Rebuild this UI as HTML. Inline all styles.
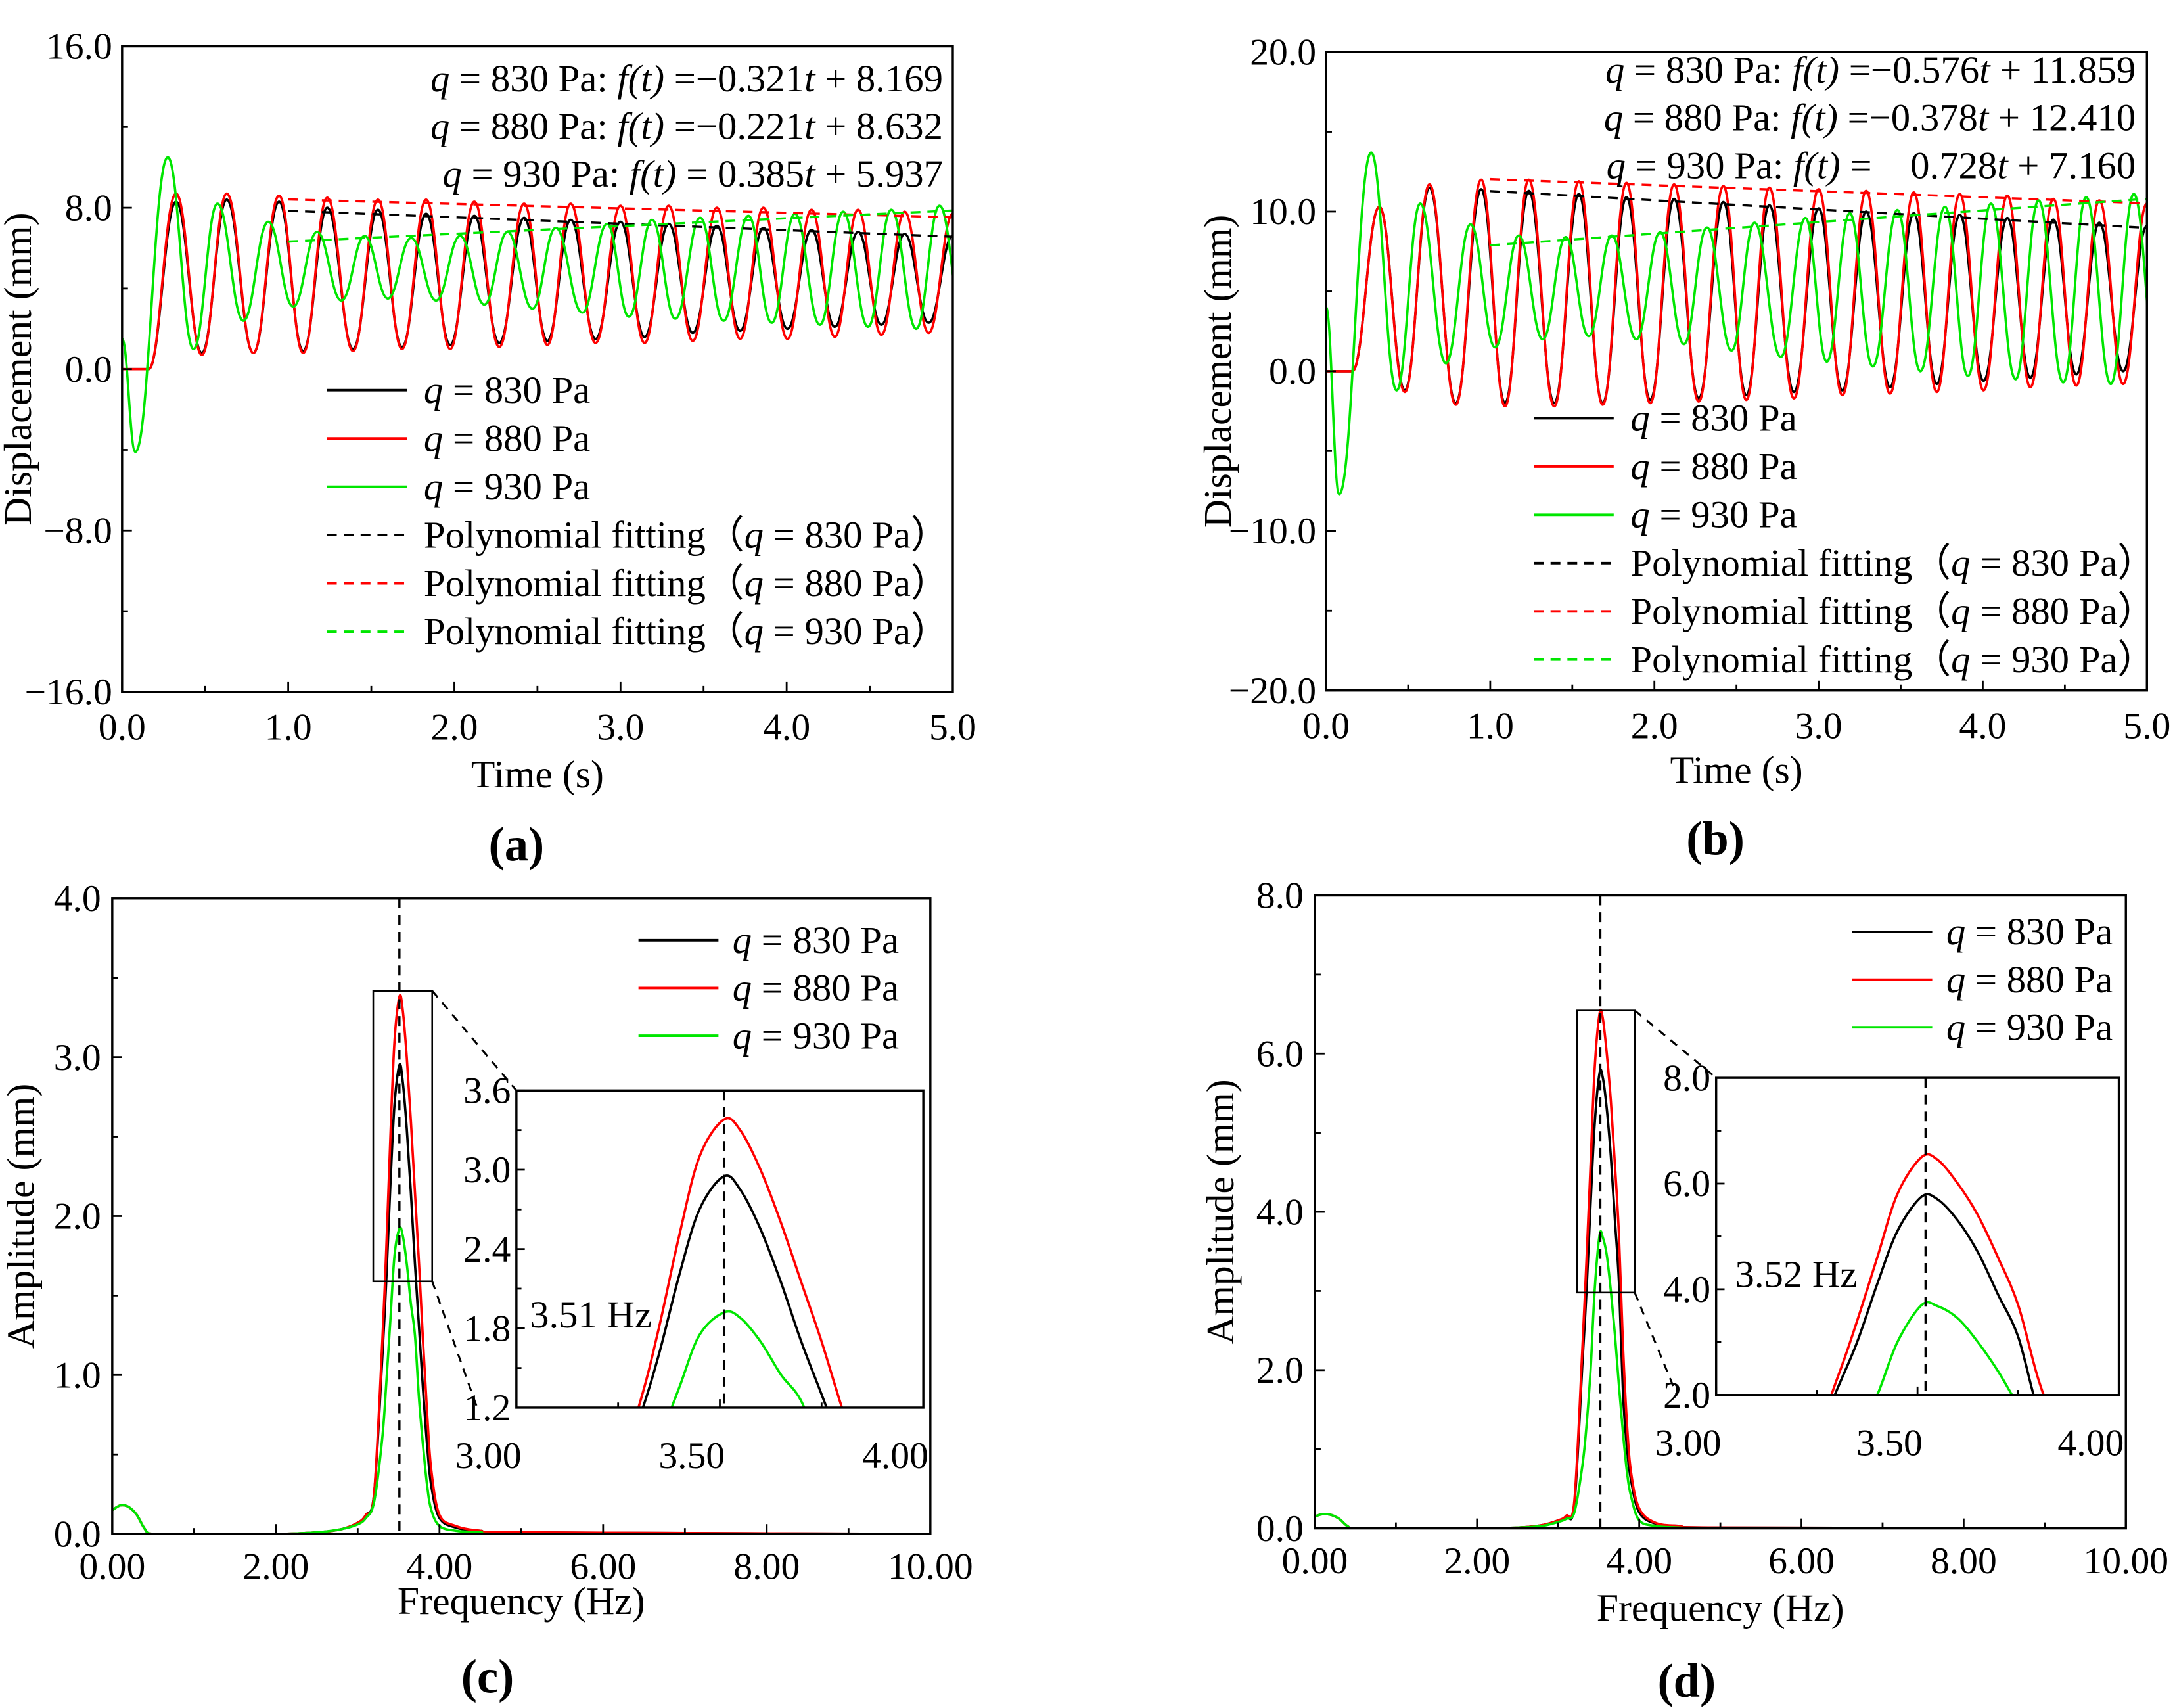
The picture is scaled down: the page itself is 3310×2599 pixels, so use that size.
<!DOCTYPE html>
<html><head><meta charset="utf-8"><style>
html,body{margin:0;padding:0;background:#fff}
svg{display:block}
text{font-family:"Liberation Serif",serif;fill:#000}
</style></head><body>
<svg id="fig" width="3310" height="2599" viewBox="0 0 1550 1217" xmlns="http://www.w3.org/2000/svg"></svg>
<script>
// ---------- DATA ----------
const timeA = [0,0.16,0.325,0.48,0.63,0.79,0.945,1.09,1.235,1.39,1.54,1.685,1.83,1.975,2.12,2.27,2.42,2.56,2.70,2.85,3.0,3.145,3.29,3.435,3.58,3.72,3.86,4.005,4.15,4.29,4.43,4.57,4.71,4.855,5.0];
const blackA = [0,0,8.3,0.8,8.4,0.8,8.3,0.9,8.0,1.0,7.9,1.1,7.7,1.2,7.6,1.3,7.5,1.4,7.4,1.5,7.3,1.6,7.2,1.8,7.1,1.9,7.0,2.0,6.9,2.1,6.8,2.2,6.7,2.3,6.6];
const redA = [0,0,8.7,0.7,8.7,0.8,8.6,0.8,8.5,0.9,8.4,1.0,8.4,1.0,8.3,1.1,8.2,1.2,8.2,1.3,8.1,1.3,8.1,1.4,8.0,1.5,8.0,1.5,7.9,1.6,7.9,1.7,7.8,1.8,7.7];
const timeGreen = [0,0.08,0.275,0.43,0.574,0.73,0.88,1.03,1.174,1.32,1.46,1.60,1.74,1.89,2.035,2.18,2.32,2.47,2.61,2.77,2.92,3.05,3.19,3.33,3.48,3.62,3.77,3.91,4.05,4.20,4.34,4.49,4.63,4.78,4.92,5.07];
const greenA = [1.5,-4.1,10.5,1.0,8.2,2.4,7.3,3.1,6.8,3.4,6.6,3.5,6.5,3.4,6.6,3.2,6.8,3.0,7.0,2.8,7.2,2.6,7.4,2.5,7.5,2.4,7.6,2.3,7.7,2.2,7.8,2.1,7.9,2.0,8.1,2.0];
const blackB = [0,0,10.3,-1.2,11.5,-2.0,11.4,-2.0,11.3,-2.0,11.1,-2.0,10.9,-1.8,10.8,-1.7,10.6,-1.5,10.4,-1.3,10.2,-1.2,10.0,-1.0,9.9,-0.8,9.8,-0.6,9.6,-0.4,9.5,-0.2,9.3,0.0,9.1];
const redB = [0,0,10.3,-1.3,11.7,-2.1,12.0,-2.2,12.0,-2.2,11.9,-2.1,11.8,-2.0,11.7,-1.9,11.6,-1.8,11.5,-1.7,11.4,-1.5,11.3,-1.4,11.2,-1.3,11.1,-1.2,11.0,-1.0,10.8,-0.9,10.7,-0.8,10.5];
const greenB = [4.0,-7.7,13.7,-1.2,10.5,0.5,9.2,1.5,8.5,2.0,8.4,2.2,8.5,2.0,8.7,1.7,9.0,1.3,9.3,0.9,9.6,0.6,9.9,0.3,10.1,0.0,10.3,-0.3,10.5,-0.5,10.7,-0.7,10.9,-0.8,11.1,-0.9];
const fitSlopeA = [-0.321,-0.221,0.385], fitInterA = [8.169,8.632,5.937];
const fitSlopeB = [-0.576,-0.378,0.728], fitInterB = [11.859,12.410,7.160];
const freq = [0,0.1,0.2,0.3,0.4,0.5,1.0,2.0,2.5,2.8,3.0,3.1,3.2,3.3,3.35,3.4,3.45,3.51,3.55,3.6,3.65,3.7,3.75,3.8,3.85,3.9,4.0,4.2,4.5,5.0,10.0];
const blackC = [0.15,0.18,0.17,0.12,0.03,0,0,0,0.01,0.03,0.07,0.12,0.25,1.1,1.6,2.2,2.7,2.95,2.85,2.55,2.15,1.7,1.3,0.9,0.55,0.3,0.1,0.04,0.02,0.01,0];
const redC = [0.15,0.18,0.17,0.12,0.03,0,0,0,0.01,0.03,0.07,0.12,0.25,1.2,1.8,2.5,3.1,3.38,3.3,3.0,2.6,2.15,1.7,1.2,0.75,0.4,0.12,0.05,0.02,0.01,0];
const greenC = [0.15,0.18,0.17,0.12,0.03,0,0,0,0.01,0.03,0.06,0.1,0.2,0.6,0.95,1.35,1.75,1.92,1.88,1.7,1.45,1.25,0.85,0.55,0.3,0.15,0.05,0.02,0.01,0,0];
const blackD = [0.15,0.18,0.17,0.12,0.03,0,0,0,0.01,0.04,0.1,0.15,0.3,2.1,3.0,4.1,5.1,5.75,5.7,5.3,4.7,3.9,3.1,1.7,1.0,0.6,0.2,0.06,0.03,0.01,0];
const redD = [0.15,0.18,0.17,0.12,0.03,0,0,0,0.01,0.04,0.1,0.16,0.35,2.3,3.4,4.6,5.8,6.5,6.45,6.0,5.4,4.6,3.7,2.3,1.3,0.7,0.25,0.07,0.03,0.01,0];
const greenD = [0.15,0.18,0.17,0.12,0.03,0,0,0,0.01,0.03,0.08,0.12,0.2,0.8,1.3,2.0,3.0,3.7,3.68,3.45,3.0,2.45,1.8,1.2,0.7,0.4,0.1,0.03,0.01,0,0];
const peakFreqC = 3.51, peakFreqD = 3.52;
const ticksA_y = ["16.0","8.0","0.0","\u22128.0","\u221216.0"];
const ticksB_y = ["20.0","10.0","0.0","\u221210.0","\u221220.0"];
const ticksAB_x = ["0.0","1.0","2.0","3.0","4.0","5.0"];
const ticksC_y = ["4.0","3.0","2.0","1.0","0.0"];
const ticksD_y = ["8.0","6.0","4.0","2.0","0.0"];
const ticksCD_x = ["0.00","2.00","4.00","6.00","8.00","10.00"];
const insetC_y = ["3.6","3.0","2.4","1.8","1.2"];
const insetD_y = ["8.0","6.0","4.0","2.0"];
const inset_x = ["3.00","3.50","4.00"];

// ---------- HELPERS ----------
const NS="http://www.w3.org/2000/svg";
const svg=document.getElementById('fig');
const TF=27, LF=27.5, AF=28;
function mk(tag,attrs,parent){const e=document.createElementNS(NS,tag);for(const k in attrs)e.setAttribute(k,attrs[k]);(parent||svg).appendChild(e);return e;}
function txt(s,x,y,size,anchor,parent,extra){const t=mk('text',Object.assign({x:x,y:y,'font-size':size,'text-anchor':anchor||'start'},extra||{}),parent);t.innerHTML=s;return t;}
function scale(d0,d1,r0,r1){return v=>r0+(v-d0)/(d1-d0)*(r1-r0);}
let clipN=0;
function frame(x0,y0,x1,y1,name){
  const g=mk('g',{});
  
  
  const id='clip'+(clipN++);
  const cp=mk('clipPath',{id:id},g);mk('rect',{x:x0,y:y0,width:x1-x0,height:y1-y0},cp);
  const plot=mk('g',{'clip-path':'url(#'+id+')'},g);
  return {g,plot,box:()=>mk('rect',{x:x0,y:y0,width:x1-x0,height:y1-y0,fill:'none',stroke:'#000','stroke-width':1.6},g)};
}
function ticks(g,sx,sy,xmin,xmax,xmaj,xmin2,ymin,ymax,ymaj,ymin2,len){
  const x0=sx(xmin),y0=sy(ymin);
  for(let v=xmin;v<=xmax+1e-9;v+=xmin2){const maj=Math.abs(Math.round((v-xmin)/xmaj)*xmaj-(v-xmin))<1e-6;
    mk('line',{x1:sx(v),x2:sx(v),y1:y0,y2:y0-(maj?len:len*0.6),stroke:'#000','stroke-width':1.3},g);}
  for(let v=ymin;v<=ymax+1e-9;v+=ymin2){const maj=Math.abs(Math.round((v-ymin)/ymaj)*ymaj-(v-ymin))<1e-6;
    mk('line',{x1:x0,x2:x0+(maj?len:len*0.6),y1:sy(v),y2:sy(v),stroke:'#000','stroke-width':1.3},g);}
}
function extremaPath(ts,vs,sx,sy){
  let d='M'+sx(ts[0])+','+sy(vs[0]);
  for(let i=1;i<ts.length;i++){const xa=sx(ts[i-1]),ya=sy(vs[i-1]),xb=sx(ts[i]),yb=sy(vs[i]),h=(xb-xa)*0.42;
    d+=' C'+(xa+h)+','+ya+' '+(xb-h)+','+yb+' '+xb+','+yb;}
  return d;
}
function smoothPath(xs,ys,sx,sy){
  const P=xs.map((x,i)=>[sx(x),sy(ys[i])]);
  let d='M'+P[0][0]+','+P[0][1];
  for(let i=0;i<P.length-1;i++){const p0=P[Math.max(0,i-1)],p1=P[i],p2=P[i+1],p3=P[Math.min(P.length-1,i+2)];
    const c1=[p1[0]+(p2[0]-p0[0])/6,p1[1]+(p2[1]-p0[1])/6],c2=[p2[0]-(p3[0]-p1[0])/6,p2[1]-(p3[1]-p1[1])/6];
    d+=' C'+c1+' '+c2+' '+p2;}
  return d;
}
const COL=['#000','#ff0000','#00e600'];

// ---------- PANEL a/b ----------
function timePanel(cfg){
  const {x0,y0,x1,y1,ymax,ymin,ystep,yt,ser,tser,slopes,inters,eqs,eqX,eqY,legX,legY,xlabY,ylabX,name,letter,letY}=cfg;
  const sx=scale(0,5,x0,x1), sy=scale(ymin,ymax,y1,y0);
  const f=frame(x0,y0,x1,y1,name);
  ser.forEach((vs,i)=>{const p=mk('path',{d:extremaPath(tser[i],vs,sx,sy),fill:'none',stroke:COL[i],'stroke-width':1.7},f.plot);
    
    });
  slopes.forEach((s,i)=>{const p=mk('line',{x1:sx(1),y1:sy(inters[i]+s*1),x2:sx(5),y2:sy(inters[i]+s*5),stroke:COL[i],'stroke-width':1.6,'stroke-dasharray':'7,5'},f.plot);
    
    });
  f.box();
  ticks(f.g,sx,sy,0,5,1,0.5,ymin,ymax,ystep,ystep/2,7);
  ticksAB_x.forEach((l,i)=>txt(l,sx(i),y1+34,TF,'middle',f.g));
  yt.forEach((l,i)=>txt(l,x0-7,sy(ymax-i*ystep)+9,TF,'end',f.g));
  eqs.forEach((e,i)=>{const t=txt(e,eqX,eqY+i*34,LF,'end',f.g);});
  const labels=['<tspan font-style="italic">q</tspan> = 830 Pa','<tspan font-style="italic">q</tspan> = 880 Pa','<tspan font-style="italic">q</tspan> = 930 Pa',
    'Polynomial fitting（<tspan font-style="italic">q</tspan> = 830 Pa）','Polynomial fitting（<tspan font-style="italic">q</tspan> = 880 Pa）','Polynomial fitting（<tspan font-style="italic">q</tspan> = 930 Pa）'];
  const lg=mk('g',{},f.g);
  
  
  labels.forEach((l,i)=>{const y=legY+i*34.4;
    const ln=mk('line',{x1:legX,x2:legX+57,y1:y,y2:y,stroke:COL[i%3],'stroke-width':1.8},lg);
    if(i>=3)ln.setAttribute('stroke-dasharray','7,5');
    txt(l,legX+69,y+9,LF,'start',lg,{'font-family':'"Liberation Serif","Noto Serif CJK SC",serif'});});
  const xl=txt('Time (s)',(x0+x1)/2,xlabY,AF,'middle',f.g);
  const yl=txt('Displacement (mm)',0,0,AF,'middle',f.g,{transform:'translate('+ylabX+','+((y0+y1)/2)+') rotate(-90)'});
  const pl=txt('('+letter+')',(x0+x1)/2-15,letY,34,'middle',f.g,{'font-weight':'bold'});
}
const it='<tspan font-style="italic">q</tspan>', ft='<tspan font-style="italic">f(t)</tspan>', tt='<tspan font-style="italic">t</tspan>';
timePanel({x0:87,y0:33,x1:679,y1:493,ymax:16,ymin:-16,ystep:8,yt:ticksA_y,ser:[blackA,redA,greenA],tser:[timeA,timeA,timeGreen],
  slopes:fitSlopeA,inters:fitInterA,eqs:[it+' = 830 Pa: '+ft+' =\u22120.321'+tt+' + 8.169',it+' = 880 Pa: '+ft+' =\u22120.221'+tt+' + 8.632',it+' = 930 Pa: '+ft+' = 0.385'+tt+' + 5.937'],
  eqX:672,eqY:65,legX:233,legY:278,xlabY:561,ylabX:22,name:'panel-a',letter:'a',letY:613});
timePanel({x0:945,y0:37,x1:1530,y1:492,ymax:20,ymin:-20,ystep:10,yt:ticksB_y,ser:[blackB,redB,greenB],tser:[timeA,timeA,timeGreen],
  slopes:fitSlopeB,inters:fitInterB,eqs:[it+' = 830 Pa: '+ft+' =\u22120.576'+tt+' + 11.859',it+' = 880 Pa: '+ft+' =\u22120.378'+tt+' + 12.410',it+' = 930 Pa: '+ft+' =&#160;&#160;&#160;&#160;0.728'+tt+' + 7.160'],
  eqX:1522,eqY:59,legX:1093,legY:298,xlabY:558,ylabX:877,name:'panel-b',letter:'b',letY:609});

// ---------- PANEL c/d ----------
function freqPanel(cfg){
  const {x0,y0,x1,y1,ymax,yt,ser,pf,legX,legY,ins,xlabY,ylabX,name,letter,letY,zb}=cfg;
  const sx=scale(0,10,x0,x1), sy=scale(0,ymax,y1,y0);
  const f=frame(x0,y0,x1,y1,name);
  ser.forEach((vs,i)=>{const p=mk('path',{d:smoothPath(freq,vs,sx,sy),fill:'none',stroke:COL[i],'stroke-width':1.7},f.plot);
    
    });
  mk('line',{x1:sx(pf),x2:sx(pf),y1:y0,y2:y1,stroke:'#000','stroke-width':1.6,'stroke-dasharray':'7,5'},f.g);
  f.box();
  ticks(f.g,sx,sy,0,10,2,1,0,ymax,ymax/4,ymax/8,7);
  ticksCD_x.forEach((l,i)=>txt(l,sx(i*2),y1+32,TF,'middle',f.g));
  yt.forEach((l,i)=>txt(l,x0-8,sy(ymax-i*ymax/4)+9,TF,'end',f.g));
  const zr=mk('rect',{x:zb[0],y:zb[1],width:zb[2]-zb[0],height:zb[3]-zb[1],fill:'none',stroke:'#000','stroke-width':1.2},f.g);
  
  mk('line',{x1:zb[2],y1:zb[1],x2:ins.x0,y2:ins.y0,stroke:'#000','stroke-width':1.4,'stroke-dasharray':'6,5'},f.g);
  mk('line',{x1:zb[2],y1:zb[3],x2:ins.x0-28,y2:ins.y1,stroke:'#000','stroke-width':1.4,'stroke-dasharray':'6,5'},f.g);
  const isx=scale(3,4,ins.x0,ins.x1), isy=scale(ins.ymin,ins.ymax,ins.y1,ins.y0);
  const fi=frame(ins.x0,ins.y0,ins.x1,ins.y1,'inset-'+letter);
  mk('rect',{x:ins.x0,y:ins.y0,width:ins.x1-ins.x0,height:ins.y1-ins.y0,fill:'#fff'},fi.plot);
  ser.forEach((vs,i)=>{const p=mk('path',{d:smoothPath(freq,vs,isx,isy),fill:'none',stroke:COL[i],'stroke-width':1.7},fi.plot);
    
    });
  mk('line',{x1:isx(pf),x2:isx(pf),y1:ins.y0,y2:ins.y1,stroke:'#000','stroke-width':1.6,'stroke-dasharray':'7,5'},fi.g);
  fi.box();
  const ystepI=(ins.ymax-ins.ymin)/(ins.yt.length-1);
  ticks(fi.g,isx,isy,3,4,0.5,0.25,ins.ymin,ins.ymax,ystepI,ystepI/2,6);
  inset_x.forEach((l,i)=>txt(l,isx(3+i*0.5)-20,ins.y1+43,TF,'middle',fi.g));
  ins.yt.forEach((l,i)=>txt(l,ins.x0-4,isy(ins.ymax-i*ystepI)+9,TF,'end',fi.g));
  txt(ins.hz,ins.hzX,ins.hzY,LF,'middle',fi.g);
  const lg=mk('g',{},f.g);
  
  
  ['830','880','930'].forEach((q,i)=>{const y=legY+i*34;
    mk('line',{x1:legX,x2:legX+57,y1:y,y2:y,stroke:COL[i],'stroke-width':1.8},lg);
    txt('<tspan font-style="italic">q</tspan> = '+q+' Pa',legX+67,y+9,LF,'start',lg);});
  const xl=txt('Frequency (Hz)',(x0+x1)/2,xlabY,AF,'middle',f.g);
  const yl=txt('Amplitude (mm)',0,0,AF,'middle',f.g,{transform:'translate('+ylabX+','+((y0+y1)/2)+') rotate(-90)'});
  const pl=txt('('+letter+')',(x0+x1)/2-24,letY,34,'middle',f.g,{'font-weight':'bold'});
}
freqPanel({x0:80,y0:640,x1:663,y1:1093,ymax:4,yt:ticksC_y,ser:[blackC,redC,greenC],pf:peakFreqC,legX:455,legY:670,
  ins:{x0:368,y0:777,x1:658,y1:1003,ymin:1.2,ymax:3.6,yt:insetC_y,hz:'3.51 Hz',hzX:421,hzY:946},zb:[266,706,308,913],
  xlabY:1150,ylabX:24,name:'panel-c',letter:'c',letY:1206});
freqPanel({x0:937,y0:638,x1:1515,y1:1089,ymax:8,yt:ticksD_y,ser:[blackD,redD,greenD],pf:peakFreqD,legX:1320,legY:664,
  ins:{x0:1223,y0:768,x1:1510,y1:994,ymin:2,ymax:8,yt:insetD_y,hz:'3.52 Hz',hzX:1280,hzY:917},zb:[1124,720,1165,921],
  xlabY:1155,ylabX:879,name:'panel-d',letter:'d',letY:1209});
</script>
</body></html>
